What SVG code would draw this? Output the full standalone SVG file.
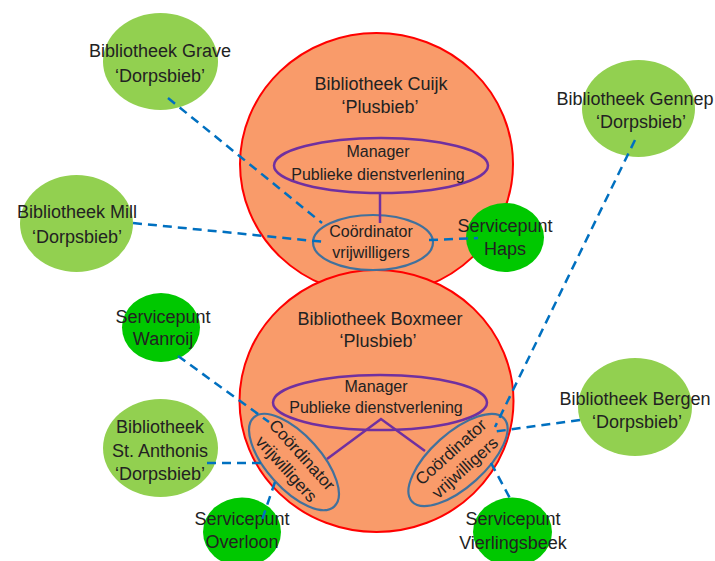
<svg xmlns="http://www.w3.org/2000/svg" width="715" height="561" viewBox="0 0 715 561">
<style>
text{font-family:"Liberation Sans",Arial,sans-serif;fill:#222222;text-anchor:middle}
.t18{font-size:18px}
.t16{font-size:16px}
.t17{font-size:17px}
.big{fill:#F99B6A;stroke:#FF0000;stroke-width:2}
.lg{fill:#92D050}
.dg{fill:#00C800}
.mgr{fill:none;stroke:#7030A0;stroke-width:2.5}
.crd{fill:none;stroke:#41719C;stroke-width:2.2}
.pl{fill:none;stroke:#7030A0;stroke-width:2.5}
.dash{fill:none;stroke:#0070C0;stroke-width:2.5;stroke-dasharray:9 6}
</style>
<rect width="715" height="561" fill="#FFFFFF"/>
<g id="cuijk">
<ellipse class="big" cx="376.5" cy="164" rx="136.5" ry="131"/>
</g>
<g id="boxmeer">
<ellipse class="big" cx="376.5" cy="401" rx="137" ry="131"/>
</g>
<g id="cuijk-content">
<text class="t18" x="381" y="90">Bibliotheek Cuijk</text>
<text class="t18" x="380" y="113">‘Plusbieb’</text>
</g>
<g id="cuijk-manager">
<ellipse class="mgr" cx="381" cy="165.5" rx="107" ry="27.5"/>
<text class="t16" x="378" y="157">Manager</text>
<text class="t16" x="378" y="180">Publieke dienstverlening</text>
</g>
<g id="cuijk-coordinator">
<ellipse class="crd" cx="373" cy="242.5" rx="60" ry="27.5"/>
<text class="t16" x="371" y="237">Coördinator</text>
<text class="t16" x="371" y="258">vrijwilligers</text>
</g>
<g id="boxmeer-content">
<text class="t18" x="380" y="325">Bibliotheek Boxmeer</text>
<text class="t18" x="378" y="347">‘Plusbieb’</text>
</g>
<g id="boxmeer-manager">
<ellipse class="mgr" cx="380" cy="402.5" rx="107" ry="27.5"/>
<text class="t16" x="376" y="392">Manager</text>
<text class="t16" x="376" y="413">Publieke dienstverlening</text>
</g>
<g id="boxmeer-coordinator-left" transform="translate(294 462) rotate(48)">
<ellipse class="crd" cx="0" cy="0" rx="60" ry="27"/>
<text class="t17" x="0" y="-5">Coördinator</text>
<text class="t17" x="0" y="16">vrijwilligers</text>
</g>
<g id="boxmeer-coordinator-right" transform="translate(458 460) rotate(-42)">
<ellipse class="crd" cx="0" cy="0" rx="62" ry="27"/>
<text class="t17" x="0" y="-5">Coördinator</text>
<text class="t17" x="0" y="16">vrijwilligers</text>
</g>
<g id="grave">
<ellipse class="lg" cx="160.5" cy="61.5" rx="57.5" ry="48.5"/>
<text class="t18" x="160" y="57">Bibliotheek Grave</text>
<text class="t18" x="160" y="82">‘Dorpsbieb’</text>
</g>
<g id="mill">
<ellipse class="lg" cx="76.5" cy="223.5" rx="56.5" ry="48.5"/>
<text class="t18" x="77" y="218">Bibliotheek Mill</text>
<text class="t18" x="77" y="243">‘Dorpsbieb’</text>
</g>
<g id="gennep">
<ellipse class="lg" cx="638.5" cy="108.5" rx="56.5" ry="48.5"/>
<text class="t18" x="635" y="105">Bibliotheek Gennep</text>
<text class="t18" x="641" y="128">‘Dorpsbieb’</text>
</g>
<g id="haps">
<ellipse class="dg" cx="505" cy="237.5" rx="39" ry="34.5"/>
<text class="t18" x="505" y="232">Servicepunt</text>
<text class="t18" x="505" y="255">Haps</text>
</g>
<g id="wanroij">
<ellipse class="dg" cx="161" cy="327.5" rx="39" ry="34.5"/>
<text class="t18" x="163" y="323">Servicepunt</text>
<text class="t18" x="163" y="345">Wanroij</text>
</g>
<g id="st-anthonis">
<ellipse class="lg" cx="160.5" cy="448" rx="57.5" ry="49"/>
<text class="t18" x="160" y="433">Bibliotheek</text>
<text class="t18" x="160" y="457">St. Anthonis</text>
<text class="t18" x="160" y="480">‘Dorpsbieb’</text>
</g>
<g id="overloon">
<ellipse class="dg" cx="242" cy="532" rx="39" ry="34.5"/>
<text class="t18" x="242" y="525">Servicepunt</text>
<text class="t18" x="242" y="548">Overloon</text>
</g>
<g id="bergen">
<ellipse class="lg" cx="635" cy="407" rx="57" ry="49"/>
<text class="t18" x="635" y="405">Bibliotheek Bergen</text>
<text class="t18" x="637" y="428">‘Dorpsbieb’</text>
</g>
<g id="vierlingsbeek">
<ellipse class="dg" cx="512.5" cy="532" rx="39.5" ry="34.5"/>
<text class="t18" x="513" y="525">Servicepunt</text>
<text class="t18" x="513" y="549">Vierlingsbeek</text>
</g>
<g id="connectors">
<line class="pl" x1="380" y1="193" x2="380" y2="223"/>
<polyline class="pl" points="327,459 381,419 425,451"/>
<line class="dash" x1="168" y1="98" x2="322" y2="223"/>
<line class="dash" x1="133" y1="223" x2="325" y2="242"/>
<line class="dash" x1="429" y1="240" x2="478" y2="238"/>
<line class="dash" x1="635" y1="140" x2="495" y2="427"/>
<line class="dash" x1="580" y1="420" x2="492" y2="432"/>
<line class="dash" x1="491" y1="463" x2="512" y2="502"/>
<line class="dash" x1="178" y1="356" x2="269" y2="422"/>
<line class="dash" x1="207" y1="463" x2="262" y2="463"/>
<line class="dash" x1="275" y1="482" x2="262" y2="520"/>
</g>
</svg>
